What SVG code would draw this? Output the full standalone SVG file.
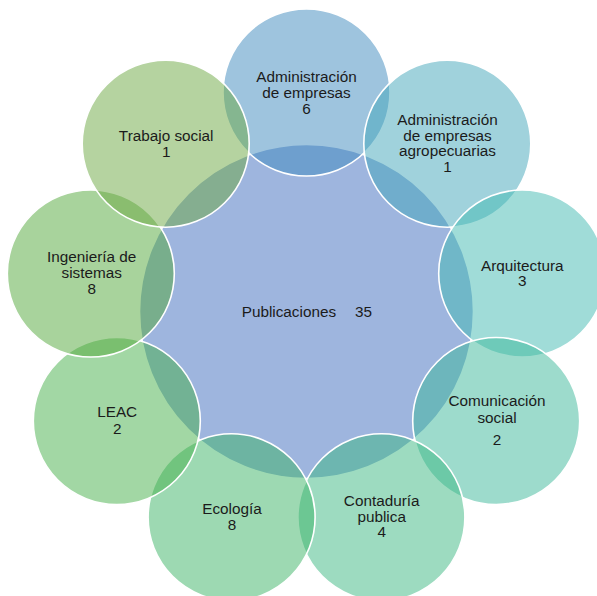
<svg xmlns="http://www.w3.org/2000/svg" width="597" height="596" viewBox="0 0 597 596">
<style>
.c{stroke:#ffffff;stroke-width:1.6;fill-opacity:0.5}
.t{font-family:"Liberation Sans",Arial,sans-serif;font-size:15.3px;fill:#1b1b1b;text-anchor:middle}
.l{font-family:"Liberation Sans",Arial,sans-serif;font-size:15.3px;fill:#1b1b1b}
</style>
<rect width="597" height="596" fill="#ffffff"/>
<g id="center">
<circle class="c" cx="306.5" cy="311.5" r="167" fill="#3D6BBD"/>
<text class="l" x="241.7" y="316.7">Publicaciones<tspan x="355">35</tspan></text>
</g>
<g id="adm-empresas">
<circle class="c" cx="306.5" cy="92.5" r="83.5" fill="#3D89BD"/>
<text class="t"><tspan x="306.5" y="82.3">Administración</tspan><tspan x="306.5" y="98">de empresas</tspan><tspan x="306.5" y="113.5">6</tspan></text>
</g>
<g id="adm-agro">
<circle class="c" cx="447.3" cy="143.7" r="83.5" fill="#41A5B9"/>
<text class="t"><tspan x="447.5" y="125">Administración</tspan><tspan x="447.5" y="140.5">de empresas</tspan><tspan x="447.5" y="156">agropecuarias</tspan><tspan x="447.5" y="171.7">1</tspan></text>
</g>
<g id="arquitectura">
<circle class="c" cx="522.2" cy="273.5" r="83.5" fill="#41B9B1"/>
<text class="t"><tspan x="522.3" y="270.5">Arquitectura</tspan><tspan x="522.3" y="286.3">3</tspan></text>
</g>
<g id="comunicacion">
<circle class="c" cx="496.2" cy="421" r="83.5" fill="#3BB799"/>
<text class="t"><tspan x="497" y="406.3">Comunicación</tspan><tspan x="497" y="422.5">social</tspan><tspan x="497" y="445">2</tspan></text>
</g>
<g id="contaduria">
<circle class="c" cx="381.4" cy="517.3" r="83.5" fill="#3BB781"/>
<text class="t"><tspan x="381.7" y="506">Contaduría</tspan><tspan x="381.7" y="521.7">publica</tspan><tspan x="381.7" y="537.3">4</tspan></text>
</g>
<g id="ecologia">
<circle class="c" cx="231.6" cy="517.3" r="83.5" fill="#3BB365"/>
<text class="t"><tspan x="232" y="514.3">Ecología</tspan><tspan x="232" y="530">8</tspan></text>
</g>
<g id="leac">
<circle class="c" cx="116.8" cy="421" r="83.5" fill="#45AF49"/>
<text class="t"><tspan x="117.2" y="416.7">LEAC</tspan><tspan x="117.2" y="434">2</tspan></text>
</g>
<g id="ingenieria">
<circle class="c" cx="90.8" cy="273.5" r="83.5" fill="#51A739"/>
<text class="t"><tspan x="91.7" y="262.3">Ingeniería de</tspan><tspan x="91.7" y="278.3">sistemas</tspan><tspan x="91.7" y="294.3">8</tspan></text>
</g>
<g id="trabajo-social">
<circle class="c" cx="165.7" cy="143.7" r="83.5" fill="#6BA741"/>
<text class="t"><tspan x="166.2" y="141">Trabajo social</tspan><tspan x="166.2" y="156.7">1</tspan></text>
</g>
<g id="connectors"></g>
</svg>
